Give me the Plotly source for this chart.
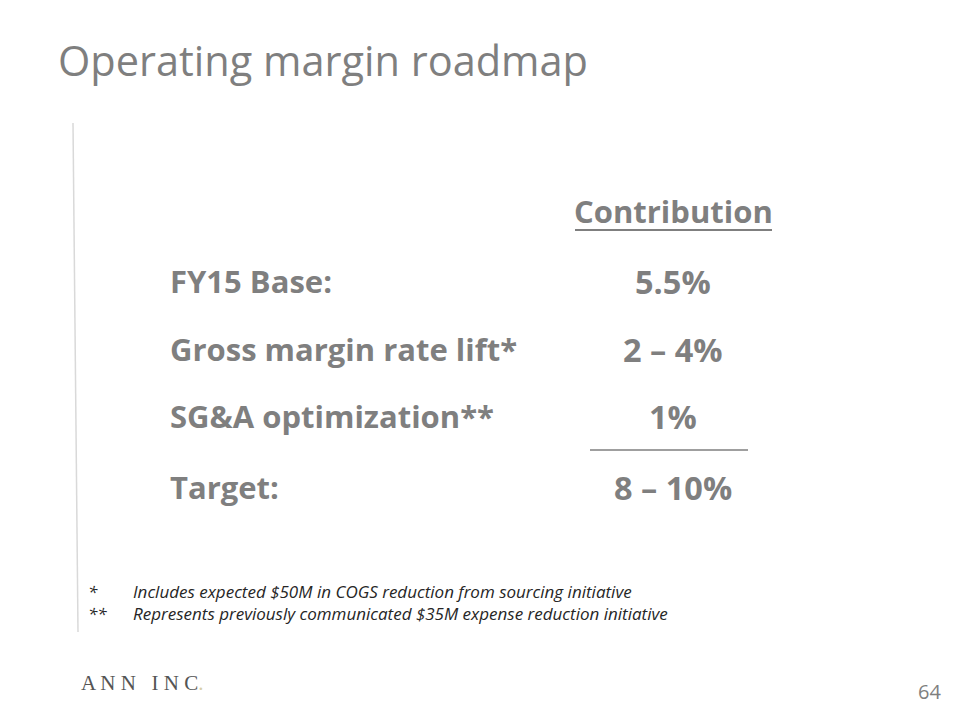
import plotly.graph_objects as go

# slide content
title = "Operating margin roadmap"
column_header = "Contribution"
row_labels = ["FY15 Base:", "Gross margin rate lift*", "SG&A optimization**", "Target:"]
row_values = ["5.5%", "2 \u2013 4%", "1%", "8 \u2013 10%"]
footnote_marks = ["*", "**"]
footnote_texts = [
    "Includes expected $50M in COGS reduction from sourcing initiative",
    "Represents previously communicated $35M expense reduction initiative",
]
page_number = "64"

GREY = "#7f7f7f"
FONT = "Open Sans, sans-serif"

row_y = [281, 349, 416, 487]
label_x = 170
value_x = 673

fig = go.Figure()
fig.add_trace(go.Scatter(x=[8, 952], y=[8, 712], mode="markers",
                         marker=dict(opacity=0), hoverinfo="skip", showlegend=False))

annotations = []
annotations.append(dict(x=56, y=60, text=title, xanchor="left", yanchor="middle",
                        font=dict(family=FONT, size=41.5, color=GREY)))
annotations.append(dict(x=value_x, y=211, text="<b>%s</b>" % column_header,
                        xanchor="center", yanchor="middle",
                        font=dict(family=FONT, size=31, color=GREY)))
for lab, val, y in zip(row_labels, row_values, row_y):
    annotations.append(dict(x=label_x - 2, y=y, text="<b>%s</b>" % lab, xanchor="left",
                            yanchor="middle", font=dict(family=FONT, size=31, color=GREY)))
    annotations.append(dict(x=value_x, y=y, text="<b>%s</b>" % val, xanchor="center",
                            yanchor="middle", font=dict(family=FONT, size=32.5, color=GREY)))

for i, (m, t) in enumerate(zip(footnote_marks, footnote_texts)):
    y = 591 + i * 22
    annotations.append(dict(x=86, y=y, text="<i>%s</i>" % m, xanchor="left", yanchor="middle",
                            font=dict(family=FONT, size=17, color="#262626")))
    annotations.append(dict(x=131, y=y, text="<i>%s</i>" % t, xanchor="left", yanchor="middle",
                            font=dict(family=FONT, size=17, color="#262626")))

annotations.append(dict(x=79, y=683, xanchor="left", yanchor="middle",
                        text="A N N&nbsp;&nbsp;&nbsp;I N C<span style='color:#d8cfa8'>.</span>",
                        font=dict(family="Liberation Serif, serif", size=21, color="#555555")))
annotations.append(dict(x=943, y=691, text=page_number, xanchor="right", yanchor="middle",
                        font=dict(family=FONT, size=20, color=GREY)))

for a in annotations:
    a["showarrow"] = False
    a["xref"] = "x"
    a["yref"] = "y"

shapes = [
    dict(type="line", x0=73, y0=123, x1=78, y1=632, line=dict(color="#d9d9d9", width=1.5)),
    dict(type="line", x0=575, y0=230, x1=772, y1=230, line=dict(color=GREY, width=2)),
    dict(type="line", x0=590, y0=450, x1=748, y1=450, line=dict(color=GREY, width=1.5)),
]
for s in shapes:
    s["xref"] = "x"
    s["yref"] = "y"

fig.update_layout(
    width=944, height=704,
    margin=dict(l=0, r=0, t=0, b=0),
    paper_bgcolor="white", plot_bgcolor="white",
    xaxis=dict(range=[8, 952], visible=False, fixedrange=True),
    yaxis=dict(range=[712, 8], visible=False, fixedrange=True),
    annotations=annotations,
    shapes=shapes,
)

fig.write_html("out.html")
